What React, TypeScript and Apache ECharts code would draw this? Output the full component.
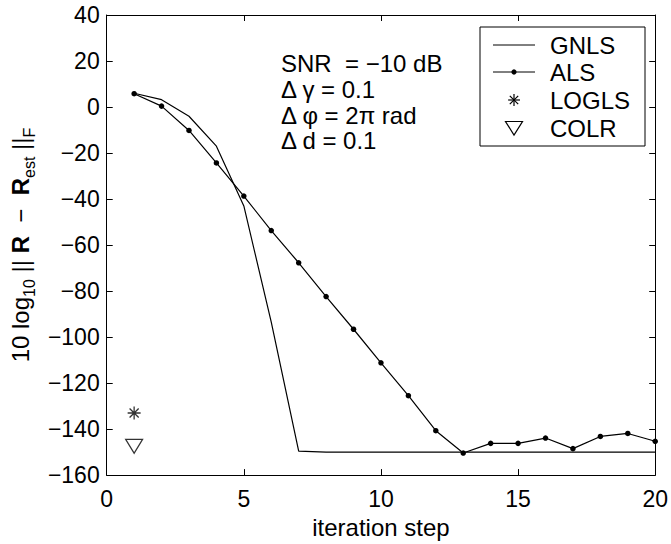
import React, { useEffect, useRef } from "react";
import * as echarts from "echarts";

const iterationSteps = [1, 2, 3, 4, 5, 6, 7, 8, 9, 10, 11, 12, 13, 14, 15, 16, 17, 18, 19, 20];
const gnlsValues = [6, 3.2, -4, -17, -43, -93.5, -149.6, -150, -150, -150, -150, -150, -150, -150, -150, -150, -150, -150, -150, -150];
const alsValues = [5.8, 0.4, -10.2, -24.3, -38.7, -53.7, -67.7, -82.4, -96.6, -111.2, -125.5, -140.7, -150.4, -146.2, -146.2, -143.9, -148.5, -143.2, -141.9, -145.3];
const loglsPoint = [1, -133];
const colrPoint = [1, -147.5];
const xTicks = { min: 0, max: 20, interval: 5 };
const yTicks = { min: -160, max: 40, interval: 20 };
const seriesNames = ["GNLS", "ALS", "LOGLS", "COLR"];
const noteLines = ["SNR  = \u221210 dB", "\u0394 \u03b3 = 0.1", "\u0394 \u03c6 = 2\u03c0 rad", "\u0394 d = 0.1"];

const FONT = "'Liberation Sans', Arial, Helvetica, sans-serif";
const FS = 24;
const STAR = "path://M0,-1 L0,1 M-1,0 L1,0 M-0.7,-0.7 L0.7,0.7 M-0.7,0.7 L0.7,-0.7";

const fmt = (v: number) => (v < 0 ? "\u2212" + Math.abs(v) : String(v));

export default function App() {
  const ref = useRef<HTMLDivElement>(null);
  useEffect(() => {
    const chart = echarts.init(ref.current!, null, { renderer: "svg" });
    const axisLine = { show: true, onZero: false, lineStyle: { color: "#000", width: 1 } };
    const axisTick = { show: true, inside: true, length: 6, lineStyle: { color: "#000", width: 1 } };
    const label = { color: "#000", fontSize: 23, fontFamily: FONT };

    const legendX = 480, legendY = 27, legendW = 165, legendH = 119;
    const rowY = [45, 72, 100, 128];
    const legendChildren: any[] = [
      { type: "rect", shape: { x: legendX, y: legendY, width: legendW, height: legendH }, style: { fill: "#fff", stroke: "#000", lineWidth: 1 } },
    ];
    seriesNames.forEach((n, i) => {
      legendChildren.push({
        type: "text",
        x: 550,
        y: rowY[i],
        style: { text: n, fill: "#000", font: `${FS}px ${FONT}`, textVerticalAlign: "middle", textAlign: "left" },
      });
    });
    legendChildren.push({ type: "line", shape: { x1: 493, y1: rowY[0], x2: 535, y2: rowY[0] }, style: { stroke: "#000", lineWidth: 1 } });
    legendChildren.push({ type: "line", shape: { x1: 493, y1: rowY[1], x2: 535, y2: rowY[1] }, style: { stroke: "#000", lineWidth: 1 } });
    legendChildren.push({ type: "circle", shape: { cx: 514, cy: rowY[1], r: 2.6 }, style: { fill: "#000" } });
    [[0, -6, 0, 6], [-6, 0, 6, 0], [-4.2, -4.2, 4.2, 4.2], [-4.2, 4.2, 4.2, -4.2]].forEach((s) => {
      legendChildren.push({ type: "line", shape: { x1: 514 + s[0], y1: rowY[2] + s[1], x2: 514 + s[2], y2: rowY[2] + s[3] }, style: { stroke: "#000", lineWidth: 1.2 } });
    });
    legendChildren.push({
      type: "polygon",
      shape: { points: [[505.5, rowY[3] - 6.5], [522.5, rowY[3] - 6.5], [514, rowY[3] + 7]] },
      style: { fill: "none", stroke: "#000", lineWidth: 1.2 },
    });

    const notes = noteLines.map((t, i) => ({
      type: "text",
      x: 281,
      y: [63, 89, 115, 140][i],
      style: { text: t, fill: "#000", font: `${FS}px ${FONT}`, textVerticalAlign: "middle", textAlign: "left" },
    }));

    chart.setOption({
      animation: false,
      backgroundColor: "#fff",
      grid: { left: 104, right: 14, top: 15, bottom: 65, containLabel: false },
      xAxis: [
        {
          type: "value", ...xTicks, position: "bottom",
          axisLine, axisTick, splitLine: { show: false },
          axisLabel: { ...label, margin: 12, formatter: fmt },
          name: "iteration step", nameLocation: "middle", nameGap: 38,
          nameTextStyle: { color: "#000", fontSize: FS, fontFamily: FONT },
        },
        {
          type: "value", ...xTicks, position: "top",
          axisLine, axisTick, splitLine: { show: false }, axisLabel: { show: false },
        },
      ],
      yAxis: [
        {
          type: "value", ...yTicks, position: "left",
          axisLine, axisTick, splitLine: { show: false },
          axisLabel: { ...label, margin: 7, formatter: fmt },
          name: "{a|10 log}{s|10}{a| || }{b|R}{a|  \u2212  }{b|R}{s|est}{a| ||}{s|F}",
          nameLocation: "middle", nameGap: 64, nameRotate: 90,
          nameTextStyle: {
            color: "#000", fontFamily: FONT,
            rich: {
              a: { fontSize: FS, fontFamily: FONT, color: "#000", lineHeight: 30, verticalAlign: "bottom" },
              b: { fontSize: FS, fontFamily: FONT, fontWeight: "bold", color: "#000", lineHeight: 30, verticalAlign: "bottom" },
              s: { fontSize: 16, fontFamily: FONT, color: "#000", lineHeight: 16, verticalAlign: "bottom", padding: [0, 0, -5, 0] },
            },
          },
        },
        {
          type: "value", ...yTicks, position: "right",
          axisLine, axisTick, splitLine: { show: false }, axisLabel: { show: false },
        },
      ],
      series: [
        {
          name: seriesNames[0], type: "line", xAxisIndex: 0, yAxisIndex: 0,
          data: iterationSteps.map((x, i) => [x, gnlsValues[i]]),
          symbol: "none", lineStyle: { color: "#000", width: 1.2 }, z: 3,
        },
        {
          name: seriesNames[1], type: "line", xAxisIndex: 0, yAxisIndex: 0,
          data: iterationSteps.map((x, i) => [x, alsValues[i]]),
          symbol: "circle", symbolSize: 5.5, showSymbol: true,
          itemStyle: { color: "#000" }, lineStyle: { color: "#000", width: 1.2 }, z: 4,
        },
        {
          name: seriesNames[2], type: "scatter", xAxisIndex: 0, yAxisIndex: 0,
          data: [loglsPoint], symbol: STAR, symbolSize: 13,
          itemStyle: { color: "none", borderColor: "#000", borderWidth: 1.3 },
        },
        {
          name: seriesNames[3], type: "scatter", xAxisIndex: 0, yAxisIndex: 0,
          data: [colrPoint], symbol: "triangle", symbolRotate: 180, symbolSize: [17, 14],
          itemStyle: { color: "#fff", borderColor: "#000", borderWidth: 1.2 },
        },
      ],
      graphic: [...notes, ...legendChildren],
    });
    return () => chart.dispose();
  }, []);
  return <div ref={ref} style={{ position: "absolute", left: 0, top: 0, width: 671, height: 544, background: "#fff" }} />;
}
